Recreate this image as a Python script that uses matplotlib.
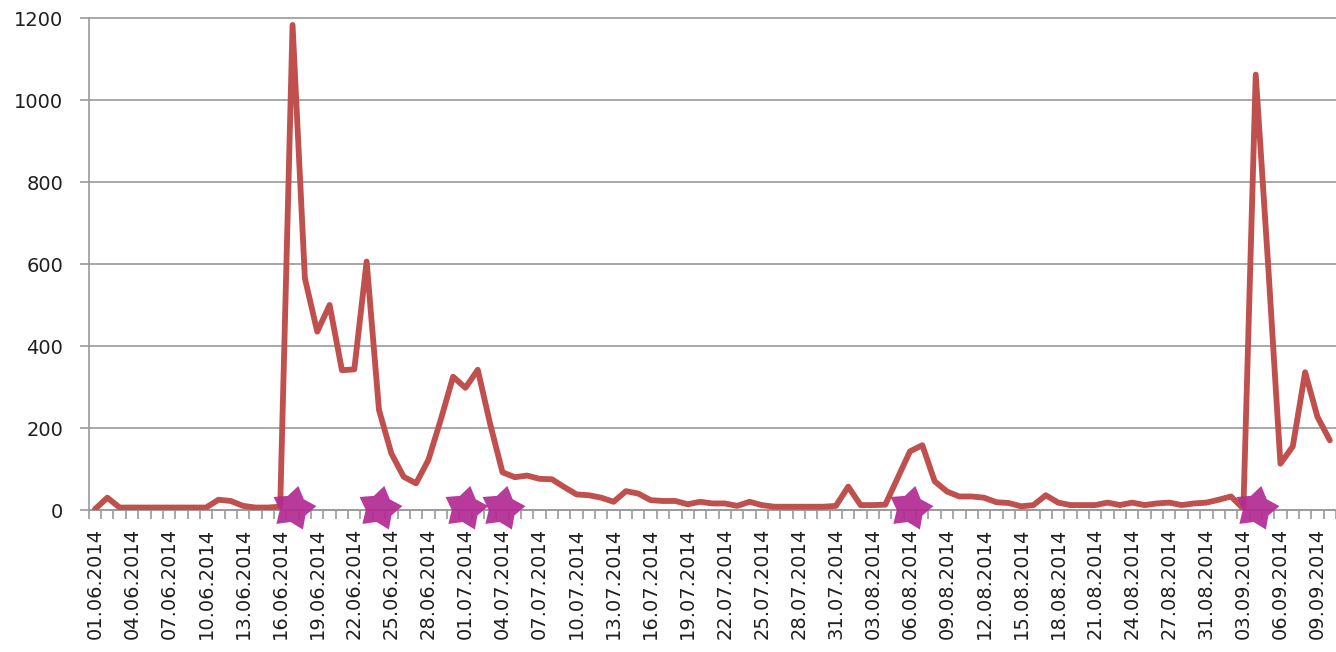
import numpy as np
import pandas as pd
from matplotlib import pyplot as plt

# daily categories, one day (29.08) absent from the series
dates = pd.date_range("2014-06-01", "2014-09-10").drop(pd.Timestamp("2014-08-29"))
date_labels = [d.strftime("%d.%m.%Y") for d in dates]

counts = [
    2, 30, 6, 6, 6, 6, 6, 6, 6, 6,
    25, 22, 10, 6, 6, 8, 1183, 565, 435, 500,
    341, 343, 606, 244, 138, 81, 65, 122, 220, 325,
    298, 342, 210, 92, 80, 84, 76, 75, 56, 38,
    36, 30, 20, 46, 40, 24, 22, 22, 14, 20,
    16, 16, 10, 20, 12, 8, 8, 8, 8, 8,
    10, 57, 12, 12, 13, 78, 143, 158, 70, 45,
    33, 33, 30, 19, 17, 9, 12, 36, 18, 12,
    12, 12, 18, 12, 18, 12, 16, 18, 12, 16,
    18, 25, 33, 3, 1062, 600, 113, 155, 336, 227,
    170,
]

# days with an event marker
event_dates = ["17.06.2014", "24.06.2014", "01.07.2014", "04.07.2014",
               "06.08.2014", "04.09.2014"]
event_idx = [date_labels.index(d) for d in event_dates]


def star_marker(inner=0.6, rot=-12):
    verts = []
    for k in range(10):
        r = 1.0 if k % 2 == 0 else inner
        a = np.deg2rad(90 + rot + 36 * k)
        verts.append((r * np.cos(a), r * np.sin(a)))
    verts.append(verts[0])
    return verts


W, H = 1336, 652
fig = plt.figure(figsize=(W / 100, H / 100), dpi=100)
ax = fig.add_axes([88.8 / W, 142 / H, (W - 88.8) / W, 492 / H])

x = np.arange(len(counts))
ax.plot(x, counts, color="#C0504D", lw=4.2, solid_joinstyle="round",
        solid_capstyle="round", zorder=3)
ax.plot(event_idx, [4] * len(event_idx), linestyle="none",
        marker=star_marker(), markersize=33, color="#B22A94", alpha=0.92,
        markeredgewidth=0, clip_on=False, zorder=4)

ax.set_xlim(-0.5, -0.5 + (W - 88.8) / 12.42)
ax.set_ylim(0, 1200)

grey = "#9A9A9A"
ax.set_yticks(range(0, 1201, 200))
ax.yaxis.grid(True, color=grey, lw=1.2)
for gl in ax.get_ygridlines():
    gl.set_clip_on(False)
ax.tick_params(axis="y", length=6.5, width=1.2, color=grey, pad=12,
               labelsize=14, labelcolor="#1F1F1F")

ax.set_xticks(x[::3])
ax.set_xticklabels(date_labels[::3], rotation=90)
ax.set_xticks(np.arange(-0.5, len(counts), 1), minor=True)
ax.tick_params(axis="x", which="major", length=0, pad=13, labelsize=14,
               labelcolor="#1F1F1F")
ax.tick_params(axis="x", which="minor", length=6.5, width=1.2, color=grey)

for side in ("top", "right"):
    ax.spines[side].set_visible(False)
for side in ("left", "bottom"):
    ax.spines[side].set_color(grey)
    ax.spines[side].set_linewidth(1.2)

fig.savefig("out.png", dpi=100)
